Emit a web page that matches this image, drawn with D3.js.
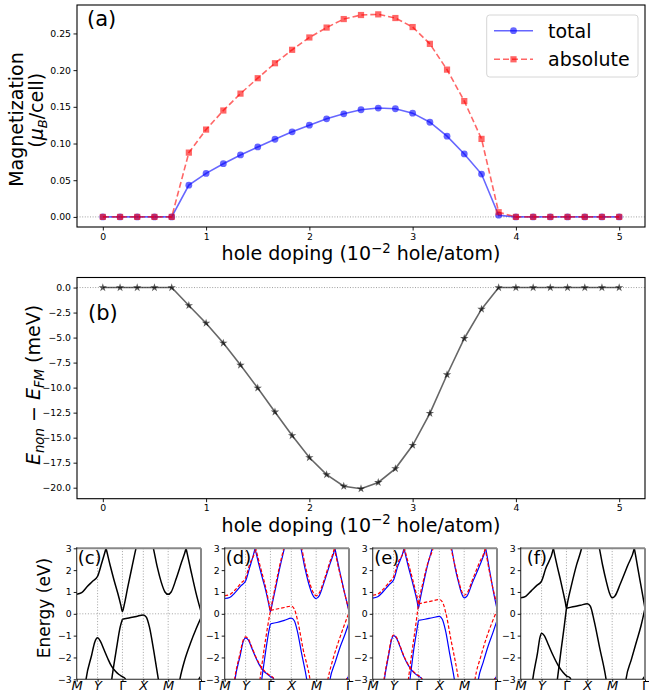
<!DOCTYPE html>
<html>
<head>
<meta charset="utf-8">
<script src="https://cdn.jsdelivr.net/npm/d3@7"></script>
<style>
  body { margin: 0; background: #fff; }
  text { font-family: "DejaVu Sans", sans-serif; }
</style>
</head>
<body>
<svg id="fig" width="649" height="698"></svg>
<script>
// doping levels (10^-2 hole/atom)
const doping = [0, 0.167, 0.333, 0.5, 0.667, 0.833, 1, 1.167, 1.333, 1.5, 1.667, 1.833, 2, 2.167, 2.333, 2.5,
  2.667, 2.833, 3, 3.167, 3.333, 3.5, 3.667, 3.833, 4, 4.167, 4.333, 4.5, 4.667, 4.833, 5]
const totalMag = [0, 0, 0, 0, 0, 0.0433, 0.0593, 0.0725, 0.0844, 0.0953, 0.1058, 0.1159, 0.125, 0.1337, 0.1405, 0.146,
  0.1483, 0.1474, 0.1414, 0.129, 0.110, 0.0858, 0.0584, 0.0023, 0, 0, 0, 0, 0, 0, 0]
const absMag = [0, 0, 0, 0, 0, 0.0876, 0.119, 0.145, 0.168, 0.189, 0.2094, 0.2277, 0.2445, 0.258, 0.2696, 0.2751,
  0.276, 0.271, 0.2587, 0.2358, 0.2007, 0.1578, 0.1063, 0.0064, 0, 0, 0, 0, 0, 0, 0]
const energyDiff = [0, 0, 0, 0, 0, -1.795, -3.56, -5.55, -7.75, -10.04, -12.43, -14.79, -16.99, -18.7, -19.85, -20.11,
  -19.48, -18.09, -15.76, -12.57, -8.71, -5.09, -2.16, 0, 0, 0, 0, 0, 0, 0, 0]

const dopingTicks = [0, 1, 2, 3, 4, 5]
const magTicks = [0, 0.05, 0.10, 0.15, 0.20, 0.25]
const energyTicks = [0, -2.5, -5, -7.5, -10, -12.5, -15, -17.5, -20]
const bandTicks = [3, 2, 1, 0, -1, -2, -3]

// k-path (fraction of path length) and labels
const kTicks = [0, 0.168, 0.368, 0.536, 0.736, 1]
const kLabels = ['M', 'Y', 'Γ', 'X', 'M', 'Γ']

// bands: [k, E(eV)] pieces
const bandsC = [
  [[0, 0.9], [0.04, 0.97], [0.085, 1.25], [0.13, 1.5], [0.168, 1.72], [0.2, 2.3], [0.236, 3.0], [0.25, 3.3]],
  [[0.222, 3.3], [0.236, 3.0], [0.27, 2.2], [0.3, 1.55], [0.33, 0.95], [0.355, 0.4], [0.368, 0.1], [0.382, 0.4], [0.41, 1.2], [0.445, 2.15], [0.477, 3.0], [0.49, 3.3]],
  [[0.605, 3.3], [0.617, 3.0], [0.65, 2.1], [0.68, 1.45], [0.71, 1.0], [0.736, 0.89], [0.76, 1.0], [0.8, 1.6], [0.84, 2.3], [0.88, 3.0], [0.892, 3.3]],
  [[0.868, 3.3], [0.88, 3.0], [0.92, 1.95], [0.96, 0.95], [1.0, 0.1]],
  [[0.275, -3.3], [0.282, -3.0], [0.32, -1.6], [0.35, -0.6], [0.368, -0.25]],
  [[0.368, -0.25], [0.42, -0.19], [0.48, -0.12], [0.536, -0.05], [0.56, -0.15], [0.585, -0.6], [0.62, -1.7], [0.657, -3.0], [0.665, -3.3]],
  [[0.82, -3.3], [0.83, -3.0], [0.87, -2.1], [0.915, -1.35], [0.96, -0.7], [1.0, -0.18]],
  [[0.068, -3.3], [0.075, -3.0], [0.12, -1.9], [0.145, -1.3], [0.168, -1.1], [0.19, -1.25], [0.22, -1.65], [0.25, -2.05], [0.28, -2.4], [0.31, -2.62], [0.34, -2.78], [0.368, -2.88], [0.39, -2.97], [0.4, -3.1]],
  [[0.975, -3.1], [0.99, -2.92], [1.0, -2.86]]
]
const upD = [
  [[0, 0.7], [0.04, 0.75], [0.085, 0.98], [0.13, 1.28], [0.168, 1.5], [0.2, 2.1], [0.244, 3.0], [0.255, 3.3]],
  [[0.232, 3.3], [0.244, 3.0], [0.275, 2.25], [0.305, 1.6], [0.335, 0.95], [0.356, 0.4], [0.368, 0.1], [0.38, 0.4], [0.41, 1.2], [0.445, 2.15], [0.48, 3.0], [0.492, 3.3]],
  [[0.602, 3.3], [0.614, 3.0], [0.645, 2.1], [0.675, 1.4], [0.705, 0.9], [0.736, 0.7], [0.76, 0.82], [0.8, 1.45], [0.845, 2.25], [0.887, 3.0], [0.898, 3.3]],
  [[0.876, 3.3], [0.887, 3.0], [0.925, 1.95], [0.965, 0.95], [1.0, 0.1]],
  [[0.29, -3.3], [0.298, -3.0], [0.33, -1.7], [0.355, -0.8], [0.368, -0.46]],
  [[0.368, -0.46], [0.42, -0.4], [0.48, -0.3], [0.536, -0.2], [0.56, -0.32], [0.585, -0.8], [0.62, -1.85], [0.66, -3.0], [0.668, -3.3]],
  [[0.838, -3.3], [0.847, -3.0], [0.89, -2.2], [0.93, -1.5], [0.97, -0.9], [1.0, -0.41]],
  [[0.076, -3.3], [0.083, -3.0], [0.125, -1.9], [0.15, -1.25], [0.168, -1.1], [0.19, -1.2], [0.22, -1.6], [0.25, -2.0], [0.28, -2.35], [0.31, -2.6], [0.34, -2.75], [0.368, -2.88], [0.39, -2.95], [0.4, -3.1]],
  [[0.975, -3.1], [0.99, -2.92], [1.0, -2.86]]
]
const downD = [
  [[0, 0.83], [0.04, 0.88], [0.085, 1.1], [0.13, 1.4], [0.168, 1.65], [0.2, 2.25], [0.25, 3.0], [0.26, 3.3]],
  [[0.238, 3.3], [0.25, 3.0], [0.28, 2.3], [0.31, 1.65], [0.338, 1.0], [0.357, 0.45], [0.368, 0.15], [0.379, 0.45], [0.405, 1.2], [0.44, 2.15], [0.475, 3.0], [0.487, 3.3]],
  [[0.608, 3.3], [0.62, 3.0], [0.65, 2.15], [0.68, 1.5], [0.708, 1.02], [0.736, 0.83], [0.76, 0.95], [0.8, 1.55], [0.842, 2.3], [0.882, 3.0], [0.893, 3.3]],
  [[0.871, 3.3], [0.882, 3.0], [0.92, 2.0], [0.962, 1.0], [1.0, 0.15]],
  [[0.277, -3.3], [0.284, -3.0], [0.315, -1.7], [0.345, -0.6], [0.368, 0.15]],
  [[0.368, 0.15], [0.42, 0.22], [0.48, 0.29], [0.536, 0.35], [0.56, 0.22], [0.59, -0.4], [0.63, -1.6], [0.686, -3.0], [0.694, -3.3]],
  [[0.82, -3.3], [0.83, -3.0], [0.875, -2.0], [0.92, -1.2], [0.96, -0.55], [1.0, 0.05]],
  [[0.073, -3.3], [0.08, -3.0], [0.122, -1.85], [0.148, -1.22], [0.168, -1.06], [0.19, -1.15], [0.22, -1.55], [0.25, -1.97], [0.28, -2.3], [0.31, -2.56], [0.34, -2.72], [0.368, -2.84], [0.39, -2.92], [0.405, -3.1]],
  [[0.972, -3.1], [0.988, -2.9], [1.0, -2.83]]
]
const upE = [
  [[0, 0.72], [0.04, 0.78], [0.085, 1.02], [0.13, 1.32], [0.168, 1.55], [0.2, 2.15], [0.252, 3.0], [0.262, 3.3]],
  [[0.24, 3.3], [0.252, 3.0], [0.285, 2.2], [0.315, 1.55], [0.342, 0.95], [0.358, 0.55], [0.368, 0.25], [0.378, 0.55], [0.405, 1.3], [0.44, 2.2], [0.478, 3.0], [0.49, 3.3]],
  [[0.623, 3.3], [0.635, 3.0], [0.66, 2.2], [0.69, 1.45], [0.714, 0.95], [0.736, 0.73], [0.76, 0.82], [0.8, 1.4], [0.86, 2.2], [0.909, 3.0], [0.92, 3.3]],
  [[0.898, 3.3], [0.909, 3.0], [0.94, 2.0], [0.97, 1.05], [1.0, 0.22]],
  [[0.293, -3.3], [0.3, -3.0], [0.33, -1.65], [0.355, -0.75], [0.368, -0.3]],
  [[0.368, -0.3], [0.42, -0.25], [0.48, -0.18], [0.536, -0.12], [0.56, -0.25], [0.585, -0.75], [0.62, -1.85], [0.657, -3.0], [0.665, -3.3]],
  [[0.842, -3.3], [0.85, -3.0], [0.89, -2.2], [0.93, -1.45], [0.968, -0.85], [1.0, -0.3]],
  [[0.087, -3.3], [0.094, -3.0], [0.13, -1.85], [0.152, -1.18], [0.168, -1.0], [0.19, -1.1], [0.22, -1.5], [0.25, -1.95], [0.28, -2.3], [0.31, -2.56], [0.34, -2.74], [0.368, -2.86], [0.39, -2.94], [0.405, -3.1]],
  [[0.975, -3.1], [0.99, -2.92], [1.0, -2.86]]
]
const downE = [
  [[0, 0.85], [0.04, 0.9], [0.085, 1.13], [0.13, 1.43], [0.168, 1.7], [0.2, 2.3], [0.256, 3.0], [0.266, 3.3]],
  [[0.244, 3.3], [0.256, 3.0], [0.29, 2.25], [0.318, 1.65], [0.345, 1.05], [0.36, 0.7], [0.368, 0.42], [0.376, 0.7], [0.405, 1.45], [0.442, 2.3], [0.485, 3.0], [0.497, 3.3]],
  [[0.618, 3.3], [0.63, 3.0], [0.66, 2.25], [0.69, 1.55], [0.714, 1.06], [0.736, 0.85], [0.76, 0.95], [0.8, 1.52], [0.855, 2.3], [0.905, 3.0], [0.916, 3.3]],
  [[0.894, 3.3], [0.905, 3.0], [0.935, 2.05], [0.968, 1.15], [1.0, 0.4]],
  [[0.28, -3.3], [0.287, -3.0], [0.318, -1.65], [0.348, -0.45], [0.368, 0.45]],
  [[0.368, 0.45], [0.42, 0.52], [0.48, 0.59], [0.536, 0.65], [0.56, 0.55], [0.59, 0.0], [0.63, -1.2], [0.69, -3.0], [0.698, -3.3]],
  [[0.815, -3.3], [0.823, -3.0], [0.87, -1.95], [0.915, -1.1], [0.96, -0.4], [1.0, 0.15]],
  [[0.084, -3.3], [0.091, -3.0], [0.128, -1.82], [0.15, -1.15], [0.168, -0.97], [0.19, -1.07], [0.22, -1.47], [0.25, -1.92], [0.28, -2.27], [0.31, -2.53], [0.34, -2.71], [0.368, -2.83], [0.39, -2.92], [0.405, -3.1]],
  [[0.972, -3.1], [0.988, -2.9], [1.0, -2.83]]
]
const bandsF = [
  [[0, 0.73], [0.04, 0.8], [0.085, 1.05], [0.13, 1.3], [0.168, 1.5], [0.2, 2.05], [0.263, 3.0], [0.273, 3.3]],
  [[0.253, 3.3], [0.263, 3.0], [0.295, 2.15], [0.322, 1.5], [0.345, 0.9], [0.36, 0.5], [0.368, 0.25], [0.378, 0.55], [0.41, 1.35], [0.45, 2.25], [0.49, 3.0], [0.502, 3.3]],
  [[0.621, 3.3], [0.633, 3.0], [0.66, 2.2], [0.69, 1.45], [0.714, 0.95], [0.736, 0.73], [0.76, 0.83], [0.8, 1.35], [0.86, 2.2], [0.914, 3.0], [0.925, 3.3]],
  [[0.903, 3.3], [0.914, 3.0], [0.945, 2.0], [0.975, 1.05], [1.0, 0.25]],
  [[0.288, -3.3], [0.295, -3.0], [0.325, -1.65], [0.352, -0.5], [0.368, 0.25]],
  [[0.368, 0.25], [0.42, 0.32], [0.48, 0.39], [0.536, 0.46], [0.56, 0.35], [0.59, -0.3], [0.635, -1.55], [0.687, -3.0], [0.695, -3.3]],
  [[0.84, -3.3], [0.847, -3.0], [0.89, -2.1], [0.93, -1.3], [0.968, -0.55], [1.0, 0.25]],
  [[0.09, -3.3], [0.097, -3.0], [0.135, -1.8], [0.155, -1.08], [0.168, -0.89], [0.19, -1.0], [0.22, -1.38], [0.26, -1.9], [0.3, -2.35], [0.34, -2.68], [0.37, -2.85], [0.395, -2.92], [0.41, -3.1]],
  [[0.975, -3.1], [0.99, -2.92], [1.0, -2.86]]
]

const svg = d3.select('#fig')
const font = 'DejaVu Sans'

// style an axis group the way matplotlib does
function styleAxis(g, size) {
  g.attr('font-family', font).attr('font-size', size).attr('color', '#000')
  g.select('.domain').remove()
  g.selectAll('line').attr('stroke-width', 0.9)
}

function spines(box) {
  svg.append('rect')
    .attr('x', box.l).attr('y', box.t)
    .attr('width', box.r - box.l).attr('height', box.b - box.t)
    .attr('fill', 'none').attr('stroke', '#000').attr('stroke-width', 1.1)
}

// ---------- panel (a) ----------
const pa = { l: 77, r: 645, t: 5, b: 227 }
const xa = d3.scaleLinear().domain([-0.25, 5.25]).range([pa.l, pa.r])
const ya = d3.scaleLinear().domain([-0.01375, 0.28875]).range([pa.b, pa.t])

svg.append('line') // zero line
  .attr('x1', pa.l).attr('x2', pa.r).attr('y1', ya(0)).attr('y2', ya(0))
  .attr('stroke', '#888').attr('stroke-width', 0.8).attr('stroke-dasharray', '1,1.6')

const lineA = vals => d3.line().x((d, i) => xa(doping[i])).y(d => ya(d))(vals)

svg.append('path').attr('d', lineA(totalMag))
  .attr('fill', 'none').attr('stroke', 'blue').attr('stroke-opacity', 0.6).attr('stroke-width', 1.6)
svg.append('g').selectAll('circle').data(totalMag).enter().append('circle')
  .attr('cx', (d, i) => xa(doping[i])).attr('cy', d => ya(d)).attr('r', 3.4)
  .attr('fill', 'blue').attr('fill-opacity', 0.6)

svg.append('path').attr('d', lineA(absMag))
  .attr('fill', 'none').attr('stroke', 'red').attr('stroke-opacity', 0.6).attr('stroke-width', 1.6)
  .attr('stroke-dasharray', '6,3')
svg.append('g').selectAll('rect').data(absMag).enter().append('rect')
  .attr('x', (d, i) => xa(doping[i]) - 3.1).attr('y', d => ya(d) - 3.1).attr('width', 6.2).attr('height', 6.2)
  .attr('fill', 'red').attr('fill-opacity', 0.6)

spines(pa)
svg.append('g').attr('transform', `translate(0,${pa.b})`)
  .call(d3.axisBottom(xa).tickValues(dopingTicks).tickFormat(d3.format('d')).tickSize(3.5).tickPadding(2.5))
  .call(g => styleAxis(g, 9.3))
svg.append('g').attr('transform', `translate(${pa.l},0)`)
  .call(d3.axisLeft(ya).tickValues(magTicks).tickFormat(d3.format('.2f')).tickSize(3.5).tickPadding(2.5))
  .call(g => styleAxis(g, 9.3))

svg.append('text').attr('x', 87).attr('y', 25.5).attr('font-size', 21).text('(a)')

// legend
const lg = svg.append('g')
lg.append('rect').attr('x', 486.7).attr('y', 15).attr('width', 151.3).attr('height', 62).attr('rx', 3)
  .attr('fill', '#fff').attr('fill-opacity', 0.8).attr('stroke', '#d6d6d6').attr('stroke-width', 1)
lg.append('line').attr('x1', 494).attr('x2', 533).attr('y1', 30.7).attr('y2', 30.7)
  .attr('stroke', 'blue').attr('stroke-opacity', 0.6).attr('stroke-width', 1.6)
lg.append('circle').attr('cx', 513.5).attr('cy', 30.7).attr('r', 3.4).attr('fill', 'blue').attr('fill-opacity', 0.6)
lg.append('line').attr('x1', 494).attr('x2', 533).attr('y1', 59.3).attr('y2', 59.3)
  .attr('stroke', 'red').attr('stroke-opacity', 0.6).attr('stroke-width', 1.6).attr('stroke-dasharray', '6,3')
lg.append('rect').attr('x', 510.4).attr('y', 56.2).attr('width', 6.2).attr('height', 6.2).attr('fill', 'red').attr('fill-opacity', 0.6)
lg.append('text').attr('x', 548).attr('y', 37.5).attr('font-size', 19).text('total')
lg.append('text').attr('x', 548).attr('y', 66).attr('font-size', 19).text('absolute')

// labels (a)
const magLabel = svg.append('g').attr('font-size', 19)
magLabel.append('text').attr('transform', 'translate(22.5,119.5) rotate(-90)').attr('text-anchor', 'middle')
  .text('Magnetization')
const ml2 = magLabel.append('text').attr('transform', 'translate(42.5,110.3) rotate(-90)').attr('text-anchor', 'middle')
ml2.append('tspan').text('(')
ml2.append('tspan').attr('font-style', 'italic').text('μ')
ml2.append('tspan').attr('font-style', 'italic').attr('font-size', 13).attr('dy', 4).text('B')
ml2.append('tspan').attr('dy', -4).text('/cell)')

function dopingLabel(y) {
  const t = svg.append('text').attr('x', 361).attr('y', y).attr('font-size', 19).attr('text-anchor', 'middle')
  t.append('tspan').text('hole doping (10')
  t.append('tspan').attr('font-size', 13.3).attr('dy', -7.5).text('\u22122')
  t.append('tspan').attr('dy', 7.5).text(' hole/atom)')
}
dopingLabel(260)

// ---------- panel (b) ----------
const pb = { l: 77, r: 645, t: 277.5, b: 498.7 }
const yb = d3.scaleLinear().domain([-21.1, 1.005]).range([pb.b, pb.t])

svg.append('line')
  .attr('x1', pb.l).attr('x2', pb.r).attr('y1', yb(0)).attr('y2', yb(0))
  .attr('stroke', '#888').attr('stroke-width', 0.8).attr('stroke-dasharray', '1,1.6')

svg.append('path')
  .attr('d', d3.line().x((d, i) => xa(doping[i])).y(d => yb(d))(energyDiff))
  .attr('fill', 'none').attr('stroke', '#000').attr('stroke-opacity', 0.6).attr('stroke-width', 1.6)
const star = d3.symbol().type(d3.symbolStar).size(22)
svg.append('g').selectAll('path').data(energyDiff).enter().append('path')
  .attr('transform', (d, i) => `translate(${xa(doping[i])},${yb(d)})`)
  .attr('d', star).attr('fill', '#000').attr('fill-opacity', 0.65)

spines(pb)
svg.append('g').attr('transform', `translate(0,${pb.b})`)
  .call(d3.axisBottom(xa).tickValues(dopingTicks).tickFormat(d3.format('d')).tickSize(3.5).tickPadding(2.5))
  .call(g => styleAxis(g, 9.3))
svg.append('g').attr('transform', `translate(${pb.l},0)`)
  .call(d3.axisLeft(yb).tickValues(energyTicks)
    .tickFormat(d => (d < 0 ? '\u2212' : '') + Math.abs(d).toFixed(1)).tickSize(3.5).tickPadding(2.5))
  .call(g => styleAxis(g, 9.3))

svg.append('text').attr('x', 88).attr('y', 320).attr('font-size', 21).text('(b)')

const el = svg.append('text').attr('transform', 'translate(39.5,385) rotate(-90)')
  .attr('text-anchor', 'middle').attr('font-size', 19)
el.append('tspan').attr('font-style', 'italic').text('E')
el.append('tspan').attr('font-style', 'italic').attr('font-size', 13.3).attr('dy', 4).text('non')
el.append('tspan').attr('dy', -4).text(' \u2212 ')
el.append('tspan').attr('font-style', 'italic').text('E')
el.append('tspan').attr('font-style', 'italic').attr('font-size', 13.3).attr('dy', 4).text('FM')
el.append('tspan').attr('dy', -4).text(' (meV)')

dopingLabel(531.5)

// ---------- band panels (c)-(f) ----------
const bt = 548.3, bb = 679.3, bw = 124.3
const panels = [
  { label: '(c)', left: 76.7, lx: 1, sets: [{ bands: bandsC, color: '#000', dash: null, w: 1.5 }] },
  { label: '(d)', left: 224.7, lx: 1, sets: [
    { bands: upD, color: 'blue', dash: null, w: 1.2 },
    { bands: downD, color: 'red', dash: '3.5,2', w: 1.2 }] },
  { label: '(e)', left: 372.7, lx: 1.5, sets: [
    { bands: upE, color: 'blue', dash: null, w: 1.2 },
    { bands: downE, color: 'red', dash: '3.5,2', w: 1.2 }] },
  { label: '(f)', left: 520.7, lx: 6, sets: [{ bands: bandsF, color: '#000', dash: null, w: 1.5 }] }
]
const ey = d3.scaleLinear().domain([-3, 3]).range([bb, bt])

panels.forEach((p, pi) => {
  const kx = d3.scaleLinear().domain([0, 1]).range([p.left, p.left + bw])
  const g = svg.append('g')
  const clipId = 'clip' + pi
  svg.append('clipPath').attr('id', clipId).append('rect')
    .attr('x', p.left).attr('y', bt).attr('width', bw).attr('height', bb - bt)

  // dotted guides
  g.selectAll('.vg').data(kTicks.slice(1, 5)).enter().append('line')
    .attr('x1', d => kx(d)).attr('x2', d => kx(d)).attr('y1', bt).attr('y2', bb)
    .attr('stroke', '#999').attr('stroke-width', 0.9).attr('stroke-dasharray', '1,1.8')
  g.append('line').attr('x1', p.left).attr('x2', p.left + bw).attr('y1', ey(0)).attr('y2', ey(0))
    .attr('stroke', '#999').attr('stroke-width', 0.9).attr('stroke-dasharray', '1,1.8')

  const line = d3.line().x(d => kx(d[0])).y(d => ey(d[1])).curve(d3.curveMonotoneX)
  const bg = g.append('g').attr('clip-path', `url(#${clipId})`)
  p.sets.forEach(s => {
    bg.selectAll(null).data(s.bands).enter().append('path')
      .attr('d', line).attr('fill', 'none').attr('stroke', s.color).attr('stroke-width', s.w)
      .attr('stroke-dasharray', s.dash)
  })

  // spines: top/right gray, left/bottom black
  g.append('line').attr('x1', p.left).attr('x2', p.left + bw).attr('y1', bt).attr('y2', bt)
    .attr('stroke', '#888').attr('stroke-width', 2)
  g.append('line').attr('x1', p.left + bw).attr('x2', p.left + bw).attr('y1', bt).attr('y2', bb)
    .attr('stroke', '#888').attr('stroke-width', 2)
  g.append('line').attr('x1', p.left).attr('x2', p.left).attr('y1', bt - 1).attr('y2', bb)
    .attr('stroke', '#333').attr('stroke-width', 1.1)
  g.append('line').attr('x1', p.left).attr('x2', p.left + bw).attr('y1', bb).attr('y2', bb)
    .attr('stroke', '#222').attr('stroke-width', 1.1)

  g.append('g').attr('transform', `translate(${p.left},0)`)
    .call(d3.axisLeft(ey).tickValues(bandTicks).tickFormat(d => (d < 0 ? '\u2212' : '') + Math.abs(d))
      .tickSize(3).tickPadding(2))
    .call(a => styleAxis(a, 9.3))
  const xg = g.append('g').attr('transform', `translate(0,${bb})`)
    .call(d3.axisBottom(kx).tickValues(kTicks).tickFormat((d, i) => kLabels[i]).tickSize(2.5).tickPadding(-1))
    .call(a => styleAxis(a, 13))
  xg.selectAll('text').attr('font-style', (d, i) => (kLabels[i] === 'Γ' ? 'normal' : 'italic'))

  g.append('text').attr('x', p.left + p.lx).attr('y', 564).attr('font-size', 18).text(p.label)
})

svg.append('text').attr('transform', 'translate(50,608) rotate(-90)')
  .attr('text-anchor', 'middle').attr('font-size', 17).text('Energy (eV)')
</script>
</body>
</html>
